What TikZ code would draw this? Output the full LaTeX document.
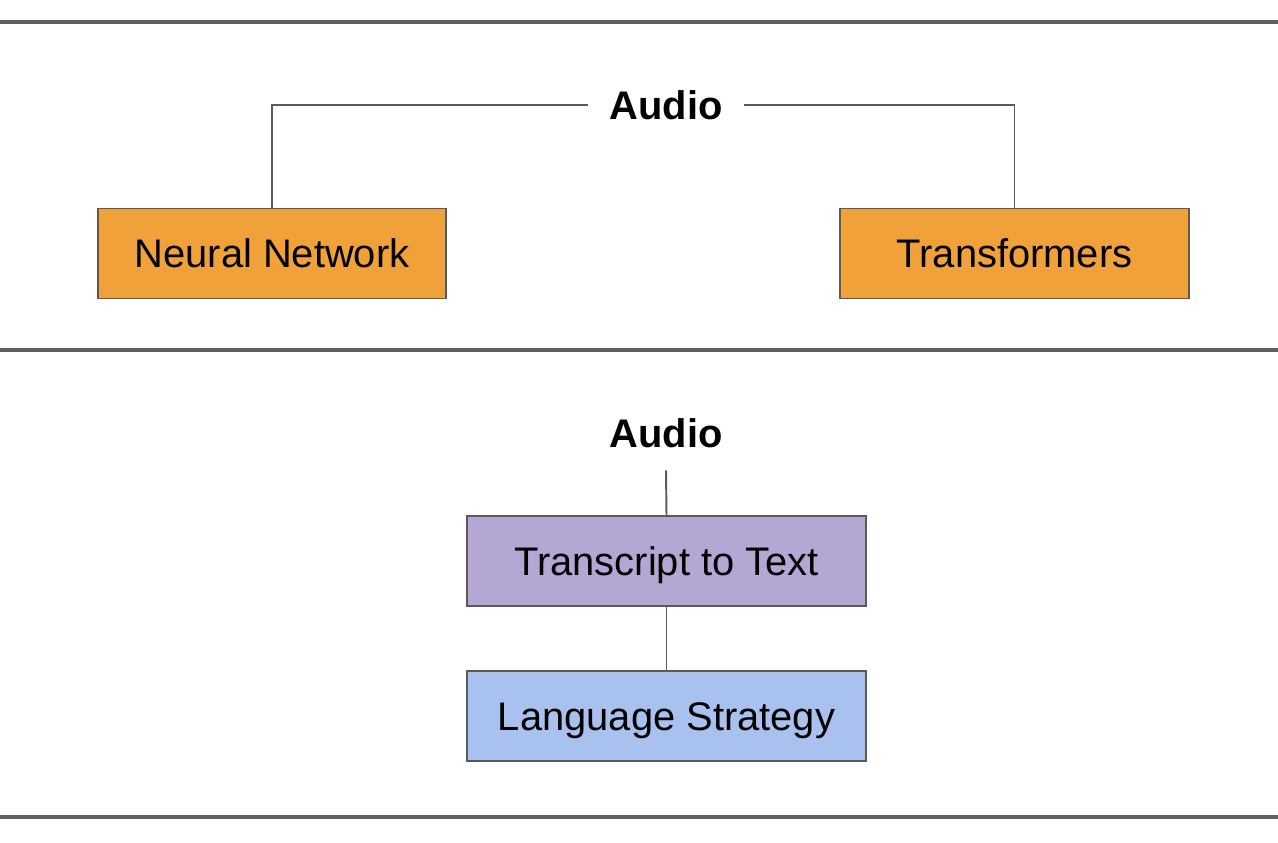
\documentclass[tikz,border=0pt]{standalone}
\usepackage{fontspec}
\setmainfont{Liberation Sans}
\definecolor{boxline}{HTML}{5A5A5A}
\definecolor{ruleline}{HTML}{606060}
\definecolor{nnorange}{HTML}{F1A13A}
\definecolor{ttpurple}{HTML}{B4A7D4}
\definecolor{lsblue}{HTML}{A8C1EE}
\begin{document}
\begin{tikzpicture}[x=0.02cm,y=-0.02cm,
  block/.style={draw=boxline,line width=0.9pt,minimum height=1.8cm,inner sep=0pt,
    text height=16.3pt,text depth=0pt,font=\fontsize{22.7}{27}\selectfont},
  audio/.style={inner xsep=0.42cm,inner ysep=0.45cm,font=\fontsize{22.7}{27}\selectfont\bfseries},
  link/.style={draw=boxline,line width=1.1pt}]
\useasboundingbox (0,0) rectangle (1278,842);
%rules between the two panels
\foreach \y in {22,350,817}
  \draw [ruleline,line width=2pt] (0,\y) -- (1278,\y);

%top panel
\node [audio] (audA) at (666,105) {Audio};
\node [block,fill=nnorange,minimum width=6.96cm] (nn) at (272,253.5) {Neural Network};
\node [block,fill=nnorange,minimum width=6.98cm] (tf) at (1014.5,253.5) {Transformers};
\draw [link] (audA.west) -| (nn.north);
\draw [link] (audA.east) -| (tf.north);

%bottom panel
\node [audio] (audB) at (666,433) {Audio};
\node [block,fill=ttpurple,minimum width=7.98cm] (tt) at (666.5,561) {Transcript to Text};
\node [block,fill=lsblue,minimum width=7.98cm] (ls) at (666.5,716) {Language Strategy};
\draw [link] (audB.south) -- (tt.north);
\draw [link] (tt) -- (ls);
\end{tikzpicture}
\end{document}
